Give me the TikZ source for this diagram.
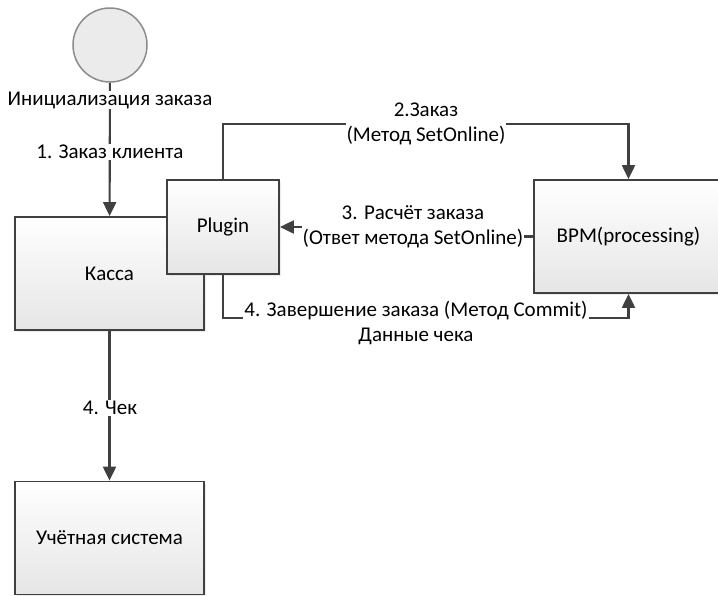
\documentclass[tikz,border=0pt]{standalone}
\usepackage{fontspec}
\setmainfont{Carlito}
\usetikzlibrary{arrows.meta,shadows}

\tikzset{x=1pt, y=-1pt}
\tikzset{
box/.style={draw=black!75, line width=1.8pt, top color=white, bottom color=black!10,
  minimum width=189pt, minimum height=113pt, inner sep=0pt,
  drop shadow={opacity=0.15, shadow xshift=2pt, shadow yshift=-2pt}},
link/.style={draw=black!75, line width=2.1pt, -{Triangle[width=13pt,length=14pt]}},
lbl/.style={fill=white, inner sep=1pt, align=center}
}

\begin{document}
\begin{tikzpicture}[x=1pt,y=-1pt,font=\fontsize{21}{25}\selectfont]
\useasboundingbox (0,0) rectangle (718,595);
\node[circle, draw=black!45, line width=1.5pt, fill=black!8, minimum size=74pt] (start) at (110,45) {};
\node[box] (kassa) at (109.5,273.5) {Касса};
\node[box, minimum width=112pt, minimum height=94pt] (plugin) at (223,227) {Plugin};
\node[box] (bpm) at (628.5,236.5) {BPM(processing)};
\node[box] (uchet) at (109.5,538) {Учётная система};
% edit here for the label positions
\coordinate (top2) at (426,124);
\coordinate (mid3) at (413,231);
\coordinate (bot4) at (416,318);
\draw[link] (start) -- (kassa);
\draw[link] (plugin.north) |- (top2) -| (bpm.north);
\draw[link] (bpm.west) -| (mid3) |- (plugin.east);
\draw[link] (plugin.south) |- (bot4) -| (bpm.south);
\draw[link] (kassa) -- (uchet);
\node[lbl] (init) at (110,100) {Инициализация заказа};
\node[lbl] (l1) at (110,152) {1. Заказ клиента};
\node[lbl] (l2) at (top2) {2.Заказ\\(Метод SetOnline)};
\node[lbl] (l3) at (413,227) {3. Расчёт заказа\\(Ответ метода SetOnline)};
\node[lbl] (l4) at (416,323) {4. Завершение заказа (Метод Commit)\\Данные чека};
\node[lbl] (l5) at (110,408) {4. Чек};
\end{tikzpicture}
\end{document}
